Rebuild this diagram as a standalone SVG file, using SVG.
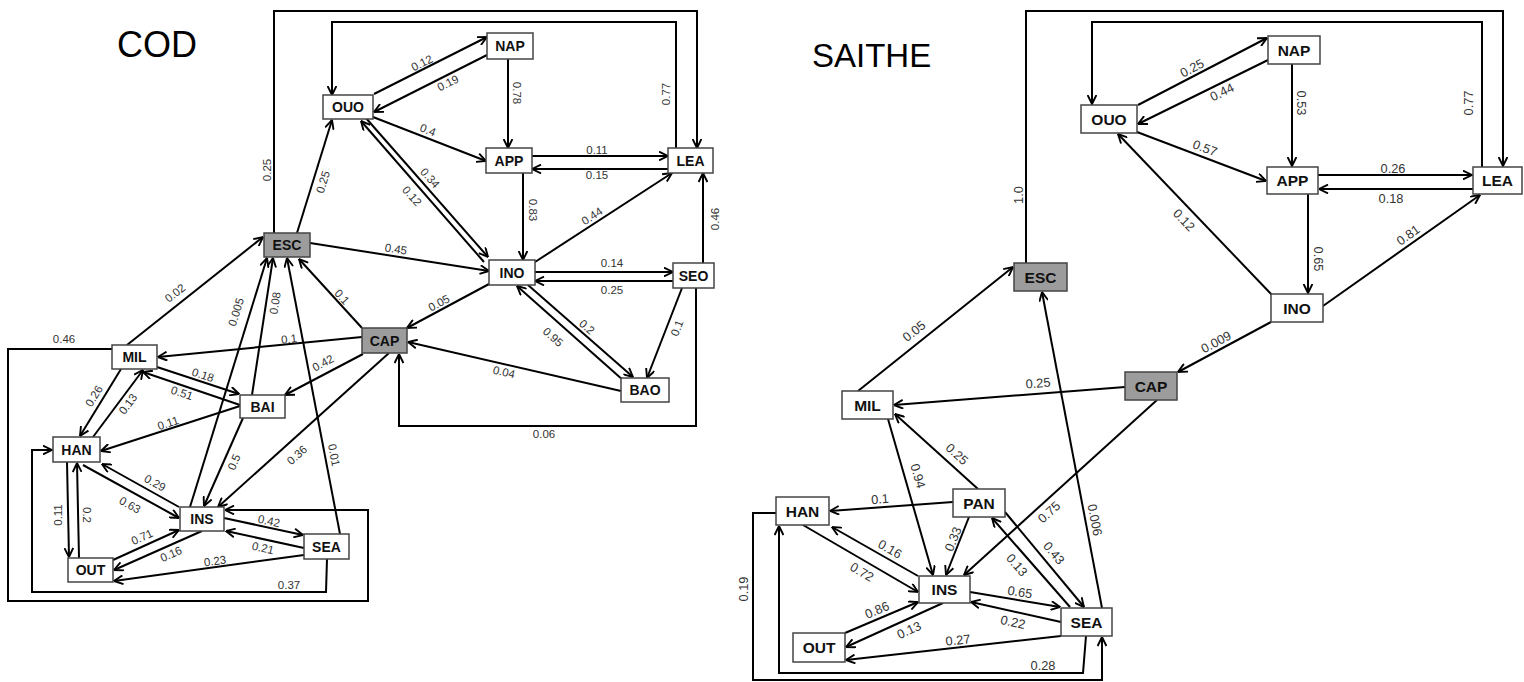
<svg xmlns="http://www.w3.org/2000/svg" width="1524" height="682" viewBox="0 0 1524 682">
<style>
.bg{fill:#fff}
.e{fill:none;stroke:#000;stroke-width:2;marker-end:url(#ah)}
.n rect{fill:#fff;stroke:#444;stroke-width:1.5}
.n.g rect{fill:#9c9c9c}
.n text{font-family:"Liberation Sans",Arial,sans-serif;font-weight:bold;text-anchor:middle;dominant-baseline:central;fill:#111}
.L .n text{font-size:14px}
.R .n text{font-size:15.5px}
.l{font-family:"Liberation Sans",Arial,sans-serif;text-anchor:middle;dominant-baseline:central;fill:#333}
.L .l{font-size:11.5px}
.R .l{font-size:12.8px}
.t{font-family:"Liberation Sans",Arial,sans-serif;fill:#000}
</style>
<defs>
<marker id="ah" viewBox="0 0 10 10" refX="9.5" refY="5" markerWidth="10" markerHeight="10" markerUnits="userSpaceOnUse" orient="auto">
<path d="M0.5,0.6 L9.5,5 L0.5,9.4" fill="none" stroke="#000" stroke-width="1.9" stroke-linejoin="miter"/>
</marker>
</defs>
<rect class="bg" x="0" y="0" width="1524" height="682"/>
<text class="t" x="117" y="57" font-size="36">COD</text>
<text class="t" x="812" y="67" font-size="33">SAITHE</text>

<g class="L">
<g id="cod-connectors">
<path class="e" d="M374,94 L487,37"/>
<path class="e" d="M487,55 L374,112"/>
<path class="e" d="M508,59 L508,148"/>
<path class="e" d="M373,117 L486,161"/>
<path class="e" d="M532,156 L668,156"/>
<path class="e" d="M668,169 L532,169"/>
<path class="e" d="M365,117 L488,257"/>
<path class="e" d="M484,262 L361,121"/>
<path class="e" d="M523,173 L523,260"/>
<path class="e" d="M535,262 L672,173"/>
<path class="e" d="M703,263 L703,173"/>
<path class="e" d="M535,272 L673,272"/>
<path class="e" d="M673,281 L535,281"/>
<path class="e" d="M682,288 L647,378"/>
<path class="e" d="M528,285 L633,377"/>
<path class="e" d="M624,381 L517,286"/>
<path class="e" d="M621,391 L408,342"/>
<path class="e" d="M489,284 L407,328"/>
<path class="e" d="M696,288 L696,426 L399,426 L399,354"/>
<path class="e" d="M310,243 L489,271"/>
<path class="e" d="M297,233 L332,120"/>
<path class="e" d="M274,233 L274,11 L697,11 L697,148"/>
<path class="e" d="M676,148 L676,22 L332,22 L332,95"/>
<path class="e" d="M362,328 L299,259"/>
<path class="e" d="M127,345 L263,237"/>
<path class="e" d="M362,337 L158,357"/>
<path class="e" d="M112,349 L8,349 L8,601 L368,601 L368,510 L225,510"/>
<path class="e" d="M190,507 L267,258"/>
<path class="e" d="M252,395 L273,258"/>
<path class="e" d="M340,534 L287,258"/>
<path class="e" d="M157,367 L239,394"/>
<path class="e" d="M240,405 L143,372"/>
<path class="e" d="M363,354 L285,395"/>
<path class="e" d="M121,369 L80,436"/>
<path class="e" d="M93,437 L143,370"/>
<path class="e" d="M240,406 L101,451"/>
<path class="e" d="M243,418 L204,506"/>
<path class="e" d="M389,353 L218,507"/>
<path class="e" d="M83,465 L179,518"/>
<path class="e" d="M179,507 L102,464"/>
<path class="e" d="M67,462 L69,557"/>
<path class="e" d="M79,558 L77,463"/>
<path class="e" d="M113,560 L179,530"/>
<path class="e" d="M202,531 L114,570"/>
<path class="e" d="M224,518 L303,535"/>
<path class="e" d="M304,548 L226,531"/>
<path class="e" d="M304,555 L114,581"/>
<path class="e" d="M327,559 L326,592 L32,592 L32,450 L52,450"/>

<text class="l" x="422" y="63" transform="rotate(-26.8 422 63)">0.12</text>
<text class="l" x="448" y="83" transform="rotate(-26.8 448 83)">0.19</text>
<text class="l" x="517" y="93" transform="rotate(90 517 93)">0.78</text>
<text class="l" x="428" y="130" transform="rotate(21 428 130)">0.4</text>
<text class="l" x="597" y="150">0.11</text>
<text class="l" x="597" y="175">0.15</text>
<text class="l" x="430" y="178" transform="rotate(48.7 430 178)">0.34</text>
<text class="l" x="412" y="196" transform="rotate(48.7 412 196)">0.12</text>
<text class="l" x="533" y="210" transform="rotate(90 533 210)">0.83</text>
<text class="l" x="592" y="216" transform="rotate(-33 592 216)">0.44</text>
<text class="l" x="715" y="219" transform="rotate(-90 715 219)">0.46</text>
<text class="l" x="612" y="263">0.14</text>
<text class="l" x="612" y="290">0.25</text>
<text class="l" x="677" y="328" transform="rotate(-68.5 677 328)">0.1</text>
<text class="l" x="587" y="327" transform="rotate(41 587 327)">0.2</text>
<text class="l" x="553" y="337" transform="rotate(41.6 553 337)">0.95</text>
<text class="l" x="504" y="372" transform="rotate(13 504 372)">0.04</text>
<text class="l" x="439" y="303" transform="rotate(-28 439 303)">0.05</text>
<text class="l" x="544" y="434">0.06</text>
<text class="l" x="396" y="249" transform="rotate(8.9 396 249)">0.45</text>
<text class="l" x="323" y="182" transform="rotate(-73 323 182)">0.25</text>
<text class="l" x="267" y="170" transform="rotate(-90 267 170)">0.25</text>
<text class="l" x="666" y="94" transform="rotate(-90 666 94)">0.77</text>
<text class="l" x="342" y="297" transform="rotate(47.6 342 297)">0.1</text>
<text class="l" x="175" y="293" transform="rotate(-38.5 175 293)">0.02</text>
<text class="l" x="289" y="339" transform="rotate(-5.6 289 339)">0.1</text>
<text class="l" x="64" y="339">0.46</text>
<text class="l" x="236" y="312" transform="rotate(-72.8 236 312)">0.005</text>
<text class="l" x="275" y="303" transform="rotate(-81.3 275 303)">0.08</text>
<text class="l" x="334" y="455" transform="rotate(79 334 455)">0.01</text>
<text class="l" x="203" y="375" transform="rotate(18.4 203 375)">0.18</text>
<text class="l" x="182" y="393" transform="rotate(18.8 182 393)">0.51</text>
<text class="l" x="323" y="363" transform="rotate(-27.7 323 363)">0.42</text>
<text class="l" x="94" y="396" transform="rotate(-58.5 94 396)">0.26</text>
<text class="l" x="128" y="404" transform="rotate(-53 128 404)">0.13</text>
<text class="l" x="168" y="423" transform="rotate(-18 168 423)">0.11</text>
<text class="l" x="234" y="462" transform="rotate(-66 234 462)">0.5</text>
<text class="l" x="297" y="455" transform="rotate(-42 297 455)">0.36</text>
<text class="l" x="130" y="505" transform="rotate(29 130 505)">0.63</text>
<text class="l" x="155" y="483" transform="rotate(29 155 483)">0.29</text>
<text class="l" x="58" y="515" transform="rotate(-90 58 515)">0.11</text>
<text class="l" x="87" y="515" transform="rotate(90 87 515)">0.2</text>
<text class="l" x="142" y="537" transform="rotate(-24.5 142 537)">0.71</text>
<text class="l" x="171" y="554" transform="rotate(-24 171 554)">0.16</text>
<text class="l" x="269" y="521" transform="rotate(12 269 521)">0.42</text>
<text class="l" x="263" y="548" transform="rotate(12.3 263 548)">0.21</text>
<text class="l" x="215" y="561" transform="rotate(-7.8 215 561)">0.23</text>
<text class="l" x="289" y="585">0.37</text>
</g>
<g id="cod-NAP" class="n"><rect x="487" y="33" width="46" height="26"/><text x="510" y="46">NAP</text></g>
<g id="cod-OUO" class="n"><rect x="323" y="95" width="50" height="24"/><text x="348" y="107">OUO</text></g>
<g id="cod-APP" class="n"><rect x="486" y="148" width="46" height="25"/><text x="509" y="160.5">APP</text></g>
<g id="cod-LEA" class="n"><rect x="668" y="148" width="45" height="25"/><text x="690.5" y="160.5">LEA</text></g>
<g id="cod-INO" class="n"><rect x="489" y="260" width="46" height="25"/><text x="512" y="272.5">INO</text></g>
<g id="cod-SEO" class="n"><rect x="673" y="263" width="41" height="25"/><text x="693.5" y="275.5">SEO</text></g>
<g id="cod-BAO" class="n"><rect x="621" y="378" width="48" height="24"/><text x="645" y="390">BAO</text></g>
<g id="cod-CAP" class="n g"><rect x="362" y="328" width="45" height="25"/><text x="384.5" y="340.5">CAP</text></g>
<g id="cod-ESC" class="n g"><rect x="264" y="233" width="46" height="24"/><text x="287" y="245">ESC</text></g>
<g id="cod-MIL" class="n"><rect x="112" y="345" width="45" height="24"/><text x="134.5" y="357">MIL</text></g>
<g id="cod-BAI" class="n"><rect x="240" y="395" width="45" height="23"/><text x="262.5" y="406.5">BAI</text></g>
<g id="cod-HAN" class="n"><rect x="53" y="437" width="47" height="25"/><text x="76.5" y="449.5">HAN</text></g>
<g id="cod-INS" class="n"><rect x="180" y="507" width="44" height="24"/><text x="202" y="519">INS</text></g>
<g id="cod-OUT" class="n"><rect x="68" y="558" width="45" height="24"/><text x="90.5" y="570">OUT</text></g>
<g id="cod-SEA" class="n"><rect x="304" y="534" width="45" height="25"/><text x="326.5" y="546.5">SEA</text></g>
</g>

<g class="R">
<g id="saithe-connectors">
<path class="e" d="M1138,105 L1267,38"/>
<path class="e" d="M1268,60 L1138,124"/>
<path class="e" d="M1292,64 L1292,166"/>
<path class="e" d="M1137,132 L1266,181"/>
<path class="e" d="M1318,175 L1472,175"/>
<path class="e" d="M1473,189 L1319,189"/>
<path class="e" d="M1026,263 L1026,11 L1503,11 L1503,166"/>
<path class="e" d="M1482,167 L1482,22 L1092,22 L1092,104"/>
<path class="e" d="M1272,295 L1118,134"/>
<path class="e" d="M1308,194 L1308,293"/>
<path class="e" d="M1323,306 L1480,195"/>
<path class="e" d="M1271,322 L1178,372"/>
<path class="e" d="M1125,387 L894,405"/>
<path class="e" d="M858,391 L1013,267"/>
<path class="e" d="M1102,608 L1042,292"/>
<path class="e" d="M1157,400 L964,575"/>
<path class="e" d="M888,419 L933,575"/>
<path class="e" d="M978,489 L895,414"/>
<path class="e" d="M953,502 L830,511"/>
<path class="e" d="M969,517 L946,575"/>
<path class="e" d="M1005,512 L1084,607"/>
<path class="e" d="M1070,607 L992,518"/>
<path class="e" d="M803,525 L918,592"/>
<path class="e" d="M918,576 L832,527"/>
<path class="e" d="M845,633 L918,602"/>
<path class="e" d="M943,603 L846,647"/>
<path class="e" d="M970,592 L1060,607"/>
<path class="e" d="M1061,622 L971,602"/>
<path class="e" d="M1061,636 L846,660"/>
<path class="e" d="M1086,636 L1083,673 L779,673 L779,526"/>
<path class="e" d="M776,513 L753,513 L753,680 L1102,680 L1102,637"/>

<text class="l" x="1192" y="68" transform="rotate(-27.4 1192 68)">0.25</text>
<text class="l" x="1222" y="92" transform="rotate(-26.2 1222 92)">0.44</text>
<text class="l" x="1301" y="103" transform="rotate(90 1301 103)">0.53</text>
<text class="l" x="1205" y="148" transform="rotate(20.8 1205 148)">0.57</text>
<text class="l" x="1393" y="168">0.26</text>
<text class="l" x="1391" y="198">0.18</text>
<text class="l" x="1018" y="195" transform="rotate(-90 1018 195)">1.0</text>
<text class="l" x="1468" y="103" transform="rotate(-90 1468 103)">0.77</text>
<text class="l" x="1184" y="220" transform="rotate(46.3 1184 220)">0.12</text>
<text class="l" x="1318" y="259" transform="rotate(90 1318 259)">0.65</text>
<text class="l" x="1408" y="235" transform="rotate(-35.3 1408 235)">0.81</text>
<text class="l" x="1216" y="342" transform="rotate(-28.3 1216 342)">0.009</text>
<text class="l" x="1038" y="383" transform="rotate(-4.5 1038 383)">0.25</text>
<text class="l" x="914" y="331" transform="rotate(-38.7 914 331)">0.05</text>
<text class="l" x="1095" y="520" transform="rotate(79.2 1095 520)">0.006</text>
<text class="l" x="1049" y="512" transform="rotate(-42.2 1049 512)">0.75</text>
<text class="l" x="918" y="476" transform="rotate(73.9 918 476)">0.94</text>
<text class="l" x="957" y="454" transform="rotate(42.2 957 454)">0.25</text>
<text class="l" x="880" y="499" transform="rotate(-4.2 880 499)">0.1</text>
<text class="l" x="953" y="539" transform="rotate(-68.4 953 539)">0.33</text>
<text class="l" x="1054" y="553" transform="rotate(50.3 1054 553)">0.43</text>
<text class="l" x="1017" y="565" transform="rotate(48.8 1017 565)">0.13</text>
<text class="l" x="862" y="572" transform="rotate(30.2 862 572)">0.72</text>
<text class="l" x="890" y="549" transform="rotate(29.7 890 549)">0.16</text>
<text class="l" x="877" y="610" transform="rotate(-23 877 610)">0.86</text>
<text class="l" x="909" y="630" transform="rotate(-24.4 909 630)">0.13</text>
<text class="l" x="1020" y="592" transform="rotate(9.5 1020 592)">0.65</text>
<text class="l" x="1013" y="622" transform="rotate(12.5 1013 622)">0.22</text>
<text class="l" x="958" y="640" transform="rotate(-6.4 958 640)">0.27</text>
<text class="l" x="1043" y="665">0.28</text>
<text class="l" x="743" y="589" transform="rotate(-90 743 589)">0.19</text>
</g>
<g id="saithe-NAP" class="n"><rect x="1268" y="36" width="52" height="28"/><text x="1294" y="50">NAP</text></g>
<g id="saithe-OUO" class="n"><rect x="1081" y="105" width="56" height="28"/><text x="1109" y="119">OUO</text></g>
<g id="saithe-APP" class="n"><rect x="1267" y="167" width="51" height="27"/><text x="1292.5" y="180.5">APP</text></g>
<g id="saithe-LEA" class="n"><rect x="1473" y="167" width="49" height="27"/><text x="1497.5" y="180.5">LEA</text></g>
<g id="saithe-INO" class="n"><rect x="1271" y="294" width="52" height="28"/><text x="1297" y="308">INO</text></g>
<g id="saithe-CAP" class="n g"><rect x="1125" y="372" width="52" height="28"/><text x="1151" y="386">CAP</text></g>
<g id="saithe-ESC" class="n g"><rect x="1014" y="263" width="53" height="28"/><text x="1040.5" y="277">ESC</text></g>
<g id="saithe-MIL" class="n"><rect x="842" y="391" width="51" height="28"/><text x="867.5" y="405">MIL</text></g>
<g id="saithe-PAN" class="n"><rect x="953" y="489" width="52" height="28"/><text x="979" y="503">PAN</text></g>
<g id="saithe-HAN" class="n"><rect x="776" y="497" width="53" height="28"/><text x="802.5" y="511">HAN</text></g>
<g id="saithe-INS" class="n"><rect x="919" y="576" width="51" height="27"/><text x="944.5" y="589.5">INS</text></g>
<g id="saithe-SEA" class="n"><rect x="1061" y="608" width="51" height="28"/><text x="1086.5" y="622">SEA</text></g>
<g id="saithe-OUT" class="n"><rect x="793" y="633" width="52" height="29"/><text x="819" y="647.5">OUT</text></g>
</g>
</svg>
